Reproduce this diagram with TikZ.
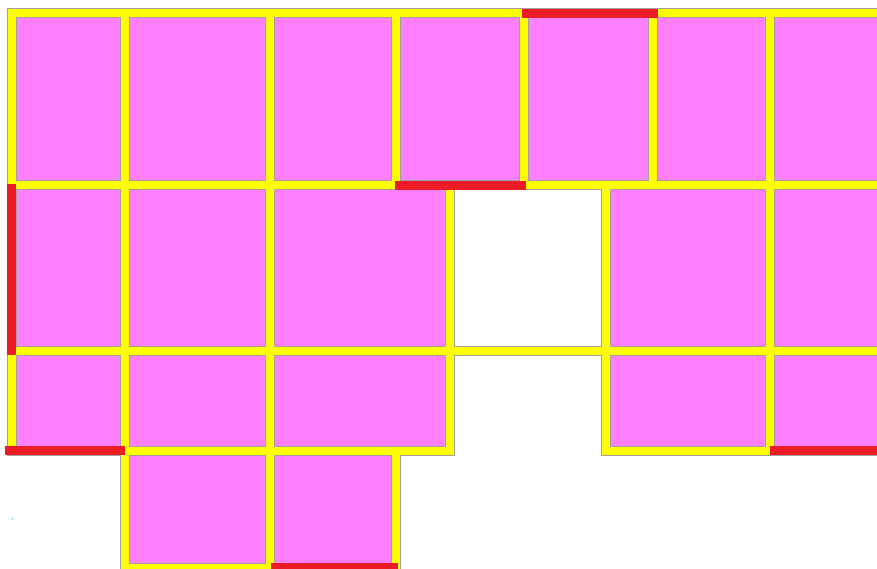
\documentclass[tikz,border=0pt]{standalone}
\definecolor{room}{HTML}{FF80FF}
\definecolor{beamy}{HTML}{FFFF00}
\definecolor{beamg}{HTML}{A0A0A0}
\definecolor{beamr}{HTML}{ED1C24}
\tikzset{
  roomfill/.style={fill=room},
  beamout/.style={draw=beamg, line width=10pt, line cap=rect},
  beamin/.style={draw=beamy, line width=8pt, line cap=rect},
  beamred/.style={draw=beamr, line width=8.5pt, line cap=butt}
}
\begin{document}
\begin{tikzpicture}[x=1pt,y=-1pt]
\clip (0,0) rectangle (877,569);
\fill[white] (0,0) rectangle (877,569);
% grid lines
\def\Xa{11.5}\def\Xb{124.5}\def\Xc{269.5}\def\Xd{395.5}\def\Xe{524}\def\Xf{653}\def\Xg{769.5}
\def\XA{449.5}\def\XB{606}\def\XR{890}
\def\Ya{13.5}\def\Yb{185.5}\def\Yc{351}\def\Yd{450.5}\def\Ye{567.5}
% rooms
\fill[roomfill] (\Xa,\Ya) rectangle (\XR,\Yb);
\fill[roomfill] (\Xa,\Yb) rectangle (\XA,\Yd);
\fill[roomfill] (\XB,\Yb) rectangle (\XR,\Yd);
\fill[roomfill] (\Xb,\Yd) rectangle (\Xd,\Ye);
% beams: outline pass then fill pass
\foreach \s in {beamout,beamin}{
  \draw[\s] (\Xa,\Ya) -- (\XR,\Ya);
  \draw[\s] (\Xa,\Yb) -- (\XR,\Yb);
  \draw[\s] (\Xa,\Yc) -- (\XR,\Yc);
  \draw[\s] (\Xa,\Yd) -- (\XA,\Yd);
  \draw[\s] (\XB,\Yd) -- (\XR,\Yd);
  \draw[\s] (\Xb,\Ye) -- (\Xd,\Ye);
  \draw[\s] (\Xa,\Ya) -- (\Xa,\Yd);
  \draw[\s] (\Xb,\Ya) -- (\Xb,\Ye);
  \draw[\s] (\Xc,\Ya) -- (\Xc,\Ye);
  \draw[\s] (\Xd,\Ya) -- (\Xd,\Yb);
  \draw[\s] (\Xd,\Yd) -- (\Xd,\Ye);
  \draw[\s] (\Xe,\Ya) -- (\Xe,\Yb);
  \draw[\s] (\Xf,\Ya) -- (\Xf,\Yb);
  \draw[\s] (\Xg,\Ya) -- (\Xg,\Yd);
  \draw[\s] (\XA,\Yb) -- (\XA,\Yd);
  \draw[\s] (\XB,\Yb) -- (\XB,\Yd);
}
% red segments
\draw[beamred] (521.5,\Ya) -- (658,\Ya);
\draw[beamred] (395,\Yb) -- (526,\Yb);
\draw[beamred] (\Xa,184) -- (\Xa,355);
\draw[beamred] (5,\Yd) -- (125,\Yd);
\draw[beamred] (770,\Yd) -- (\XR,\Yd);
\draw[beamred] (270.5,\Ye) -- (398,\Ye);
% tiny cyan mark
\fill[cyan!60] (12.5,519) circle (0.8);
\end{tikzpicture}
\end{document}
